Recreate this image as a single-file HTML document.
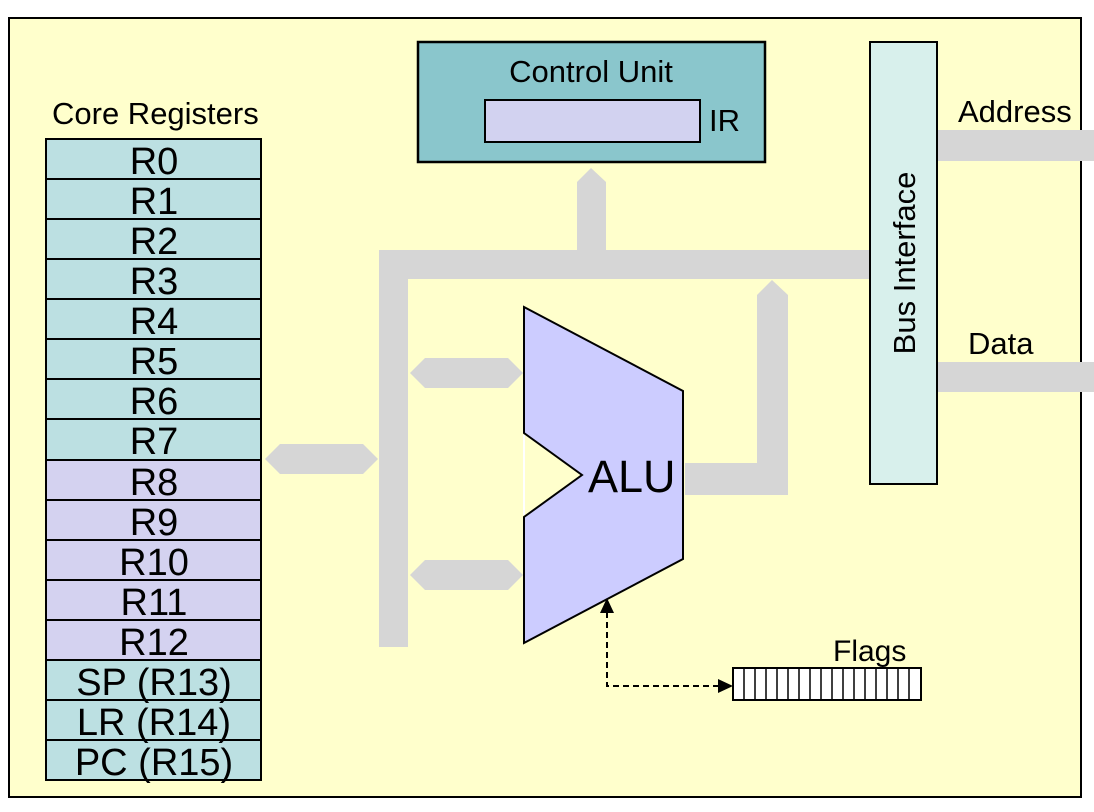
<!DOCTYPE html>
<html><head><meta charset="utf-8"><style>
html,body{margin:0;padding:0;background:#fff;}
svg{display:block;}
text{font-family:"Liberation Sans",Arial,sans-serif;fill:#000;}
</style></head><body>
<svg width="1094" height="812" viewBox="0 0 1094 812" xmlns="http://www.w3.org/2000/svg">
<rect x="9" y="18" width="1072" height="779" fill="#ffffcc" stroke="#000" stroke-width="2"/>
<g fill="#d6d6d6">
<rect x="937" y="130" width="157" height="31"/>
<rect x="937" y="362" width="157" height="30"/>
<rect x="379" y="250" width="490" height="29"/>
<rect x="379" y="250" width="29" height="397"/>
<polygon points="577,250 577,182 591,168 606,182 606,250"/>
<polygon points="757,495 757,295 772,280 788,295 788,495"/>
<rect x="685" y="463" width="103" height="32"/>
<polygon points="265,459 280,444 363,444 378,459 363,474 280,474"/>
<polygon points="410,373 425,358 508,358 523,373 508,388 425,388"/>
<polygon points="410,575 425,560 508,560 523,575 508,590 425,590"/>
</g>
<g stroke="#000" stroke-width="2">
<rect x="46" y="139" width="215" height="40" fill="#bce0e2"/>
<rect x="46" y="179" width="215" height="40" fill="#bce0e2"/>
<rect x="46" y="219" width="215" height="40" fill="#bce0e2"/>
<rect x="46" y="259" width="215" height="40" fill="#bce0e2"/>
<rect x="46" y="299" width="215" height="40" fill="#bce0e2"/>
<rect x="46" y="339" width="215" height="40" fill="#bce0e2"/>
<rect x="46" y="379" width="215" height="40" fill="#bce0e2"/>
<rect x="46" y="419" width="215" height="41" fill="#bce0e2"/>
<rect x="46" y="460" width="215" height="40" fill="#d4d2f0"/>
<rect x="46" y="500" width="215" height="40" fill="#d4d2f0"/>
<rect x="46" y="540" width="215" height="40" fill="#d4d2f0"/>
<rect x="46" y="580" width="215" height="40" fill="#d4d2f0"/>
<rect x="46" y="620" width="215" height="40" fill="#d4d2f0"/>
<rect x="46" y="660" width="215" height="40" fill="#bce0e2"/>
<rect x="46" y="700" width="215" height="40" fill="#bce0e2"/>
<rect x="46" y="740" width="215" height="40" fill="#bce0e2"/>
</g>
<text x="52" y="124" font-size="31">Core Registers</text>
<g font-size="38" text-anchor="middle">
<text x="154" y="174">R0</text><text x="154" y="214">R1</text><text x="154" y="254">R2</text>
<text x="154" y="294">R3</text><text x="154" y="334">R4</text><text x="154" y="374">R5</text>
<text x="154" y="414">R6</text><text x="154" y="454">R7</text><text x="154" y="495">R8</text>
<text x="154" y="535">R9</text><text x="154" y="575">R10</text><text x="154" y="615">R11</text>
<text x="154" y="655">R12</text><text x="154" y="695">SP (R13)</text><text x="154" y="735">LR (R14)</text>
<text x="154" y="775">PC (R15)</text>
</g>
<rect x="418" y="42" width="347" height="120" fill="#8ac6cc" stroke="#000" stroke-width="2.5"/>
<text x="591" y="82" font-size="31" text-anchor="middle">Control Unit</text>
<rect x="485" y="100" width="215" height="42" fill="#d2d2f0" stroke="#000" stroke-width="2"/>
<text x="709" y="131" font-size="31">IR</text>
<rect x="870" y="42" width="67" height="442" fill="#d8f0ec" stroke="#000" stroke-width="2"/>
<text transform="translate(915,263) rotate(-90)" font-size="31" text-anchor="middle">Bus Interface</text>
<text x="958" y="122" font-size="31">Address</text>
<text x="968" y="354" font-size="31">Data</text>
<polygon points="524,307 683,391 683,559 524,643 524,517 582,475 524,433" fill="#ccccff" stroke="#000" stroke-width="2"/>
<line x1="524" y1="435" x2="524" y2="515" stroke="#fff" stroke-width="2"/>
<text x="588" y="492" font-size="45">ALU</text>
<rect x="733" y="668" width="188" height="32" fill="#fff" stroke="#000" stroke-width="2"/>
<g stroke="#000" stroke-width="1.5">
<line x1="744" y1="668" x2="744" y2="700"/><line x1="755" y1="668" x2="755" y2="700"/>
<line x1="766" y1="668" x2="766" y2="700"/><line x1="777" y1="668" x2="777" y2="700"/>
<line x1="788" y1="668" x2="788" y2="700"/><line x1="799" y1="668" x2="799" y2="700"/>
<line x1="810" y1="668" x2="810" y2="700"/><line x1="821" y1="668" x2="821" y2="700"/>
<line x1="832" y1="668" x2="832" y2="700"/><line x1="843" y1="668" x2="843" y2="700"/>
<line x1="854" y1="668" x2="854" y2="700"/><line x1="865" y1="668" x2="865" y2="700"/>
<line x1="876" y1="668" x2="876" y2="700"/><line x1="887" y1="668" x2="887" y2="700"/>
<line x1="898" y1="668" x2="898" y2="700"/><line x1="909" y1="668" x2="909" y2="700"/>
</g>
<text x="833" y="661" font-size="30">Flags</text>
<polyline points="607,612 607,686 720,686" fill="none" stroke="#000" stroke-width="2" stroke-dasharray="6,4"/>
<polygon points="607,598 600,613 614,613" fill="#000"/>
<polygon points="733,686 718,679 718,693" fill="#000"/>
</svg>
</body></html>
